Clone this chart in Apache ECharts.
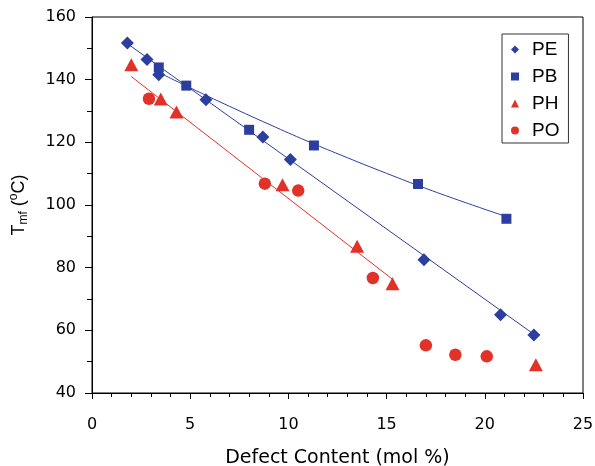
<!DOCTYPE html>
<html>
<head>
<meta charset="utf-8">
<script src="https://cdn.jsdelivr.net/npm/echarts@6/dist/echarts.min.js"></script>
<style>html,body{margin:0;padding:0;background:#fff;}#c{width:595px;height:466px;}</style>
</head>
<body>
<div id="c"></div>
<script>
// Data
var peX = [1.8, 2.8, 3.4, 5.8, 8.7, 10.1, 16.9, 20.8, 22.5];
var peY = [151.7, 146.4, 141.6, 133.6, 121.7, 114.5, 82.5, 65.0, 58.5];
var pbX = [3.4, 4.8, 8.0, 11.3, 16.6, 21.1];
var pbY = [143.9, 138.1, 124.0, 119.0, 106.7, 95.6];
var phX = [2.0, 3.5, 4.3, 9.7, 13.5, 15.3, 22.6];
var phY = [144.8, 133.8, 129.7, 106.5, 86.8, 74.9, 49.0];
var poX = [2.9, 8.8, 10.5, 14.3, 17.0, 18.5, 20.1];
var poY = [133.9, 106.8, 104.6, 76.7, 55.2, 52.2, 51.7];

// Fit lines
var peFitX = [1.8, 22.6];
var peFitY = [151.5, 58.3];
var pbFitX = [3.4, 5, 7, 9, 11, 13, 15, 17, 19, 21];
var pbFitY = [142.3, 137.4, 131.5, 125.8, 120.3, 115.1, 110.1, 105.3, 100.8, 96.5];
var phFitX = [2.0, 15.3];
var phFitY = [141.0, 76.3];

var xTicks = [0, 5, 10, 15, 20, 25];
var yTicks = [40, 60, 80, 100, 120, 140, 160];

function pairs(xs, ys) { return xs.map(function (x, i) { return [x, ys[i]]; }); }

var BLUE = '#2c3e9e';
var RED = '#e1322a';
var FONT = 'Liberation Sans, Arial, sans-serif';
var AXFONT = 'DejaVu Sans, sans-serif';

var chart = echarts.init(document.getElementById('c'), null, { renderer: 'canvas' });
chart.setOption({
  animation: false,
  backgroundColor: '#fff',
  textStyle: { fontFamily: FONT, color: '#000' },
  grid: { left: 92, right: 12, top: 17, bottom: 73, show: true, borderColor: '#000', borderWidth: 1,
          containLabel: false, outerBoundsMode: 'none' },
  xAxis: {
    type: 'value', min: xTicks[0], max: xTicks[xTicks.length - 1], interval: 5,
    name: 'Defect Content (mol %)', nameLocation: 'middle', nameGap: 56,
    nameTextStyle: { fontSize: 19, fontFamily: AXFONT, color: '#000' },
    axisLine: { lineStyle: { color: '#000', width: 1 } },
    axisTick: { show: true, inside: false, length: 6, lineStyle: { color: '#000' } },
    minorTick: { show: true, splitNumber: 5, length: 4, lineStyle: { color: '#000' } },
    axisLabel: { fontSize: 16, color: '#000', fontFamily: AXFONT, margin: 24 },
    splitLine: { show: false }
  },
  yAxis: {
    type: 'value', min: yTicks[0], max: yTicks[yTicks.length - 1], interval: 20,
    name: '{a|T}{s|mf}{a|\u00a0(}{p|o}{a|C)}', nameLocation: 'middle', nameGap: 62, nameRotate: 90,
    nameTextStyle: {
      fontFamily: FONT, color: '#000',
      rich: {
        a: { fontSize: 18, fontFamily: FONT, color: '#000', lineHeight: 22, verticalAlign: 'middle' },
        s: { fontSize: 12, fontFamily: FONT, color: '#000', lineHeight: 12, verticalAlign: 'bottom' },
        p: { fontSize: 12, fontFamily: FONT, color: '#000', lineHeight: 12, verticalAlign: 'top' }
      }
    },
    axisLine: { lineStyle: { color: '#000', width: 1 } },
    axisTick: { show: true, inside: false, length: 7, lineStyle: { color: '#000' } },
    minorTick: { show: true, splitNumber: 2, length: 5, lineStyle: { color: '#000' } },
    axisLabel: { fontSize: 16, color: '#000', fontFamily: AXFONT, margin: 16 },
    splitLine: { show: false }
  },
  legend: {
    orient: 'vertical', left: 502, top: 34,
    data: ['PE', 'PB', 'PH', 'PO'],
    itemWidth: 8, itemHeight: 8, itemGap: 8,
    padding: [6, 9, 3, 9],
    borderColor: '#333', borderWidth: 1,
    textStyle: { fontSize: 19, fontFamily: FONT, color: '#000', lineHeight: 19, padding: [0, 0, 0, 8] }
  },
  series: [
    { name: 'PE fit', type: 'line', data: pairs(peFitX, peFitY), showSymbol: false, lineStyle: { color: BLUE, width: 1 }, silent: true },
    { name: 'PB fit', type: 'line', smooth: true, data: pairs(pbFitX, pbFitY), showSymbol: false, lineStyle: { color: BLUE, width: 1 }, silent: true },
    { name: 'PH fit', type: 'line', data: pairs(phFitX, phFitY), showSymbol: false, lineStyle: { color: RED, width: 1 }, silent: true },
    { name: 'PE', type: 'scatter', symbol: 'diamond', symbolSize: 13, data: pairs(peX, peY), itemStyle: { color: BLUE, opacity: 1 }, z: 5 },
    { name: 'PB', type: 'scatter', symbol: 'rect', symbolSize: 10, data: pairs(pbX, pbY), itemStyle: { color: BLUE, opacity: 1 }, z: 5 },
    { name: 'PH', type: 'scatter', symbol: 'triangle', symbolSize: [14, 13], data: pairs(phX, phY), itemStyle: { color: RED, opacity: 1 }, z: 5 },
    { name: 'PO', type: 'scatter', symbol: 'circle', symbolSize: 12.5, data: pairs(poX, poY), itemStyle: { color: RED, opacity: 1 }, z: 5 }
  ]
});
</script>
</body>
</html>
